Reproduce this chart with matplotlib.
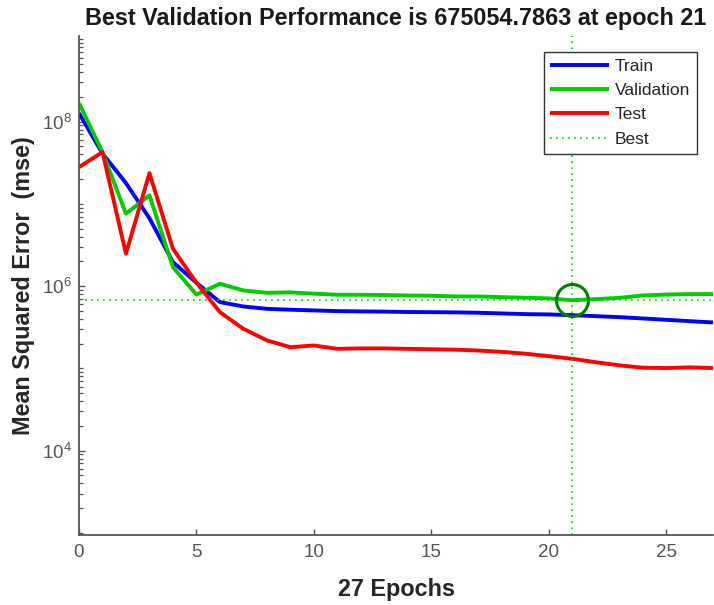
import matplotlib
matplotlib.use("Agg")
import matplotlib.pyplot as plt
from matplotlib.ticker import LogLocator, FixedLocator, NullFormatter

# ---------------- data ----------------
epochs = [0, 1, 2, 3, 4, 5, 6, 7, 8, 9, 10, 11, 12, 13,
          14, 15, 16, 17, 18, 19, 20, 21, 22, 23, 24, 25, 26, 27]

train = [1.27e8, 4.1e7, 1.79e7, 6.7e6, 1.96e6, 1.1e6, 6.4e5, 5.66e5, 5.3e5, 5.17e5,
         5.07e5, 4.97e5, 4.93e5, 4.9e5, 4.85e5, 4.83e5, 4.8e5, 4.75e5, 4.66e5, 4.57e5,
         4.53e5, 4.44e5, 4.32e5, 4.2e5, 4.05e5, 3.9e5, 3.75e5, 3.62e5]

validation = [1.68e8, 4.26e7, 7.6e6, 1.27e7, 1.7e6, 7.9e5, 1.07e6, 8.87e5, 8.3e5, 8.4e5,
              8.1e5, 7.86e5, 7.86e5, 7.8e5, 7.7e5, 7.65e5, 7.5e5, 7.5e5, 7.35e5, 7.23e5,
              7.1e5, 675054.7863, 6.95e5, 7.2e5, 7.7e5, 7.9e5, 8.0e5, 8.0e5]

test = [2.8e7, 4.26e7, 2.48e6, 2.37e7, 2.85e6, 1.1e6, 4.83e5, 3.03e5, 2.19e5, 1.81e5,
        1.9e5, 1.73e5, 1.75e5, 1.75e5, 1.73e5, 1.71e5, 1.69e5, 1.65e5, 1.59e5, 1.51e5,
        1.41e5, 1.31e5, 1.19e5, 1.09e5, 1.02e5, 1.01e5, 1.03e5, 1.01e5]

best_epoch = 21
best_perf = 675054.7863

series_names = ["Train", "Validation", "Test", "Best"]
xticks = [0, 5, 10, 15, 20, 25]
yticks = [1e4, 1e6, 1e8]

title = "Best Validation Performance is 675054.7863 at epoch 21"
xlabel = "27 Epochs"
ylabel = "Mean Squared Error  (mse)"

# ---------------- style ----------------
plt.rcParams["font.family"] = ["Liberation Sans", "DejaVu Sans"]
plt.rcParams["mathtext.fontset"] = "custom"
plt.rcParams["mathtext.rm"] = "Liberation Sans"
plt.rcParams["mathtext.it"] = "Liberation Sans:italic"
plt.rcParams["mathtext.bf"] = "Liberation Sans:bold"

W, H = 714, 605
fig = plt.figure(figsize=(W / 100, H / 100), dpi=100)
left, right, top, bottom = 79, 713, 36, 535.3
ax = fig.add_axes([left / W, 1 - bottom / H, (right - left) / W, (bottom - top) / H])

blue = (0, 0, 1)
green = (0, 0.8, 0)
red = (1, 0, 0)
lw = 2.8

ax.plot(epochs, train, color=blue, lw=lw, label=series_names[0], solid_capstyle="butt")
ax.plot(epochs, validation, color=green, lw=lw, label=series_names[1], solid_capstyle="butt")
ax.plot(epochs, test, color=red, lw=lw, label=series_names[2], solid_capstyle="butt")

ax.set_yscale("log")
ax.set_xlim(0, 27)
ax.set_ylim(935, 1.1e9)

best_ls = (0, (1, 2.6))
ax.axvline(best_epoch, color=green, lw=1.2, ls=best_ls, label=series_names[3])
ax.axhline(best_perf, color=green, lw=1.2, ls=best_ls)
ax.plot([best_epoch], [best_perf], marker="o", ms=23, mfc="none", mec=(0, 0.5, 0), mew=2.2, ls="none")

# ticks
ax.xaxis.set_major_locator(FixedLocator(xticks))
ax.yaxis.set_major_locator(FixedLocator(yticks))
ax.yaxis.set_minor_locator(LogLocator(base=10, subs=[1, 2, 3, 4, 5, 6, 7, 8, 9], numticks=20))
ax.yaxis.set_minor_formatter(NullFormatter())

spine_col = "#555555"
tick_col = "#555555"
for s in ["top", "right"]:
    ax.spines[s].set_visible(False)
for s in ["left", "bottom"]:
    ax.spines[s].set_color(spine_col)
    ax.spines[s].set_linewidth(1.3)

ax.tick_params(axis="both", which="major", direction="in", length=4.5, width=1.0,
               color=spine_col, labelcolor=tick_col, labelsize=13.5)
ax.tick_params(axis="y", which="minor", direction="in", length=2.6, width=0.9, color=spine_col)
ax.tick_params(axis="x", which="major", pad=6.5)
ax.tick_params(axis="y", which="major", pad=5)

ax.set_title(title, fontsize=16.8, fontweight="bold", pad=8, color="#1a1a1a")
ax.set_xlabel(xlabel, fontsize=16.8, fontweight="bold", labelpad=12, color="#262626")
ax.set_ylabel(ylabel, fontsize=16.8, fontweight="bold", labelpad=5, color="#262626")

# legend
leg = ax.legend(loc="upper right", bbox_to_anchor=((697 - left) / (right - left), (bottom - 52) / (bottom - top)),
                borderaxespad=0, fontsize=12.5, frameon=True, fancybox=False, framealpha=1,
                handlelength=3.4, handletextpad=0.3, labelspacing=0.52, borderpad=0.4)
leg.get_frame().set_edgecolor("#333333")
leg.get_frame().set_linewidth(1.0)
for t in leg.get_texts():
    t.set_color("#262626")

fig.savefig("out.png", dpi=100, facecolor="white")
